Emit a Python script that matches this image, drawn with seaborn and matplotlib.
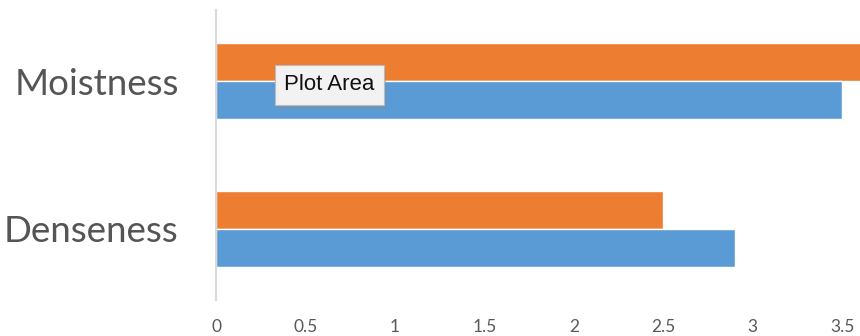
import matplotlib
matplotlib.use("Agg")
import matplotlib.pyplot as plt
import matplotlib.patheffects as pe
import seaborn as sns
import pandas as pd

categories = ["Moistness", "Denseness"]
series_names = ["Series 2", "Series 1"]
series2_values = [3.7, 2.5]   # orange (top bar of each pair)
series1_values = [3.5, 2.9]   # blue (bottom bar of each pair)
x_ticks = [0, 0.5, 1, 1.5, 2, 2.5, 3, 3.5]
x_tick_labels = ["0", "0.5", "1", "1.5", "2", "2.5", "3", "3.5"]
colors = ["#ED7D31", "#5B9BD5"]

df = pd.DataFrame({
    "category": categories * 2,
    "series": [series_names[0]] * len(categories) + [series_names[1]] * len(categories),
    "value": series2_values + series1_values,
})

sns.set_theme(style="white")
plt.rcParams["font.family"] = ["Lato", "DejaVu Sans"]

fig = plt.figure(figsize=(8.6, 3.36), dpi=100)
ax = fig.add_axes([216 / 860, 36 / 336, 644 / 860, 290 / 336])

sns.barplot(data=df, y="category", x="value", hue="series", order=categories,
            hue_order=series_names, palette=colors, orient="h", width=0.52,
            saturation=1, ax=ax, legend=False)

ax.set_xlim(0, 3.6)
ax.set_ylim(1.48, -0.48)
ax.set_xticks(x_ticks)
ax.set_xticklabels(x_tick_labels, fontsize=12.5, color="#595959")
for lab in ax.get_yticklabels():
    lab.set_fontsize(26.5)
    lab.set_color("#555555")
ax.tick_params(axis="x", length=0, pad=14)
ax.tick_params(axis="y", length=0, pad=27)
ax.set_xlabel("")
ax.set_ylabel("")
for s in ["top", "right", "bottom"]:
    ax.spines[s].set_visible(False)
ax.spines["left"].set_color("#D9D9D9")
ax.spines["left"].set_linewidth(1.5)

t = fig.text(284 / 860, 1 - 85 / 336, "Plot Area", fontsize=16, color="#111111",
             family=["Liberation Sans", "DejaVu Sans"], ha="left", va="center",
             bbox=dict(boxstyle="square,pad=0.42", facecolor="#F2F2F2",
                       edgecolor="#BBBBBB", linewidth=0.8))
t.get_bbox_patch().set_path_effects([
    pe.SimplePatchShadow(offset=(2, -3), shadow_rgbFace="#888888", alpha=0.35),
    pe.Normal()])

fig.savefig("out.png", dpi=100)
